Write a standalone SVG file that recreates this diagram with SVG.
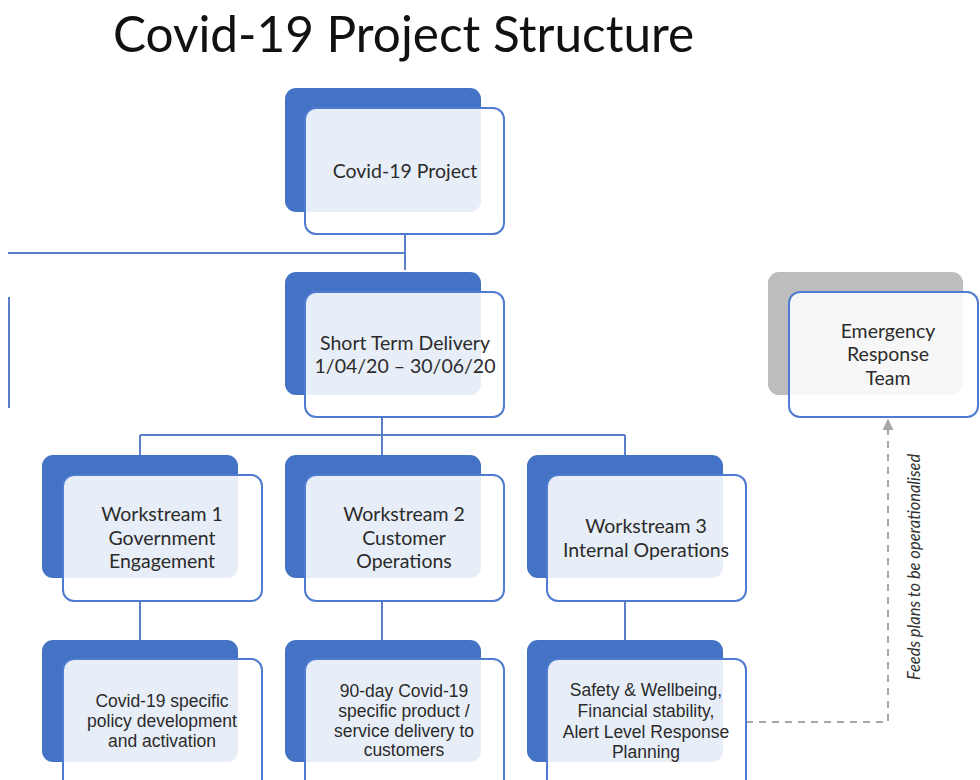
<svg xmlns="http://www.w3.org/2000/svg" width="980" height="780" viewBox="0 0 980 780">
<defs>
<style>
.back{fill:#4472C4}
.backg{fill:#BDBDBD}
.front{fill:#FFFFFF;fill-opacity:0.88;stroke:#4F7BD0;stroke-width:2}
.conn{fill:none;stroke:#5B7FC8;stroke-width:2}
.dash{fill:none;stroke:#A6A6A6;stroke-width:2;stroke-dasharray:7 6}
.t1{font-family:Lato,"Liberation Sans",sans-serif;font-size:19.5px;fill:#2B2B2B;text-anchor:middle}
.t2{font-family:"Liberation Sans",Arial,sans-serif;font-size:17.5px;fill:#2B2B2B;text-anchor:middle}
.title{font-family:Lato,"Liberation Sans",sans-serif;font-size:49.5px;fill:#111}
.lbl{font-family:Lato,"Liberation Sans",sans-serif;font-size:16.5px;font-style:italic;fill:#333;text-anchor:middle}
</style>
<marker id="arr" viewBox="0 0 10 10" refX="9" refY="5" markerWidth="5.5" markerHeight="5.5" orient="auto">
<path d="M0,0 L10,5 L0,10 z" fill="#A6A6A6"/>
</marker>
</defs>
<rect width="980" height="780" fill="#FFFFFF"/>
<text class="title" x="113" y="52">Covid-19 Project Structure</text>

<g id="connectors">
<path class="conn" d="M405,233 V270 M405,253 H8"/>
<path class="conn" d="M9,297 V408"/>
<path class="conn" d="M382,417 V455 M140,435 H625 M140,435 V455 M625,435 V455"/>
<path class="conn" d="M140,600 V640 M382,600 V640 M625,600 V640"/>
<path class="dash" d="M746,722 H888 V420" marker-end="url(#arr)"/>
<text class="lbl" transform="translate(920,567) rotate(-90)">Feeds plans to be operationalised</text>
</g>

<g id="covid-project">
<rect class="back" x="285" y="88" width="196" height="124" rx="11"/>
<rect class="front" x="305" y="108" width="199" height="126" rx="11"/>
<text class="t1" x="405" y="178">Covid-19 Project</text>
</g>

<g id="short-term">
<rect class="back" x="285" y="272" width="196" height="123" rx="11"/>
<rect class="front" x="305" y="292" width="199" height="125" rx="11"/>
<text class="t1" x="405" y="350">Short Term Delivery</text>
<text class="t1" x="405" y="373">1/04/20 – 30/06/20</text>
</g>

<g id="ert">
<rect class="backg" x="768" y="272" width="195" height="123" rx="11"/>
<rect class="front" x="789" y="292" width="189" height="125" rx="11"/>
<text class="t1" x="888" y="338">Emergency</text>
<text class="t1" x="888" y="361">Response</text>
<text class="t1" x="888" y="385">Team</text>
</g>

<g id="ws1">
<rect class="back" x="42" y="455" width="196" height="123" rx="11"/>
<rect class="front" x="63" y="475" width="199" height="126" rx="11"/>
<text class="t1" x="162" y="521">Workstream 1</text>
<text class="t1" x="162" y="545">Government</text>
<text class="t1" x="162" y="568">Engagement</text>
</g>

<g id="ws2">
<rect class="back" x="285" y="455" width="196" height="123" rx="11"/>
<rect class="front" x="305" y="475" width="199" height="126" rx="11"/>
<text class="t1" x="404" y="521">Workstream 2</text>
<text class="t1" x="404" y="545">Customer</text>
<text class="t1" x="404" y="568">Operations</text>
</g>

<g id="ws3">
<rect class="back" x="527" y="455" width="196" height="123" rx="11"/>
<rect class="front" x="547" y="475" width="199" height="126" rx="11"/>
<text class="t1" x="646" y="533">Workstream 3</text>
<text class="t1" x="646" y="557">Internal Operations</text>
</g>

<g id="policy">
<rect class="back" x="42" y="640" width="196" height="122" rx="11"/>
<rect class="front" x="63" y="659" width="199" height="135" rx="11"/>
<text class="t2" x="162" y="707">Covid-19 specific</text>
<text class="t2" x="162" y="727">policy development</text>
<text class="t2" x="162" y="747">and activation</text>
</g>

<g id="product">
<rect class="back" x="285" y="640" width="196" height="122" rx="11"/>
<rect class="front" x="305" y="659" width="199" height="135" rx="11"/>
<text class="t2" x="404" y="697">90-day Covid-19</text>
<text class="t2" x="404" y="717">specific product /</text>
<text class="t2" x="404" y="737">service delivery to</text>
<text class="t2" x="404" y="756">customers</text>
</g>

<g id="safety">
<rect class="back" x="527" y="640" width="196" height="122" rx="11"/>
<rect class="front" x="547" y="659" width="199" height="135" rx="11"/>
<text class="t2" x="646" y="696">Safety &amp; Wellbeing,</text>
<text class="t2" x="646" y="717">Financial stability,</text>
<text class="t2" x="646" y="738">Alert Level Response</text>
<text class="t2" x="646" y="758">Planning</text>
</g>
</svg>
